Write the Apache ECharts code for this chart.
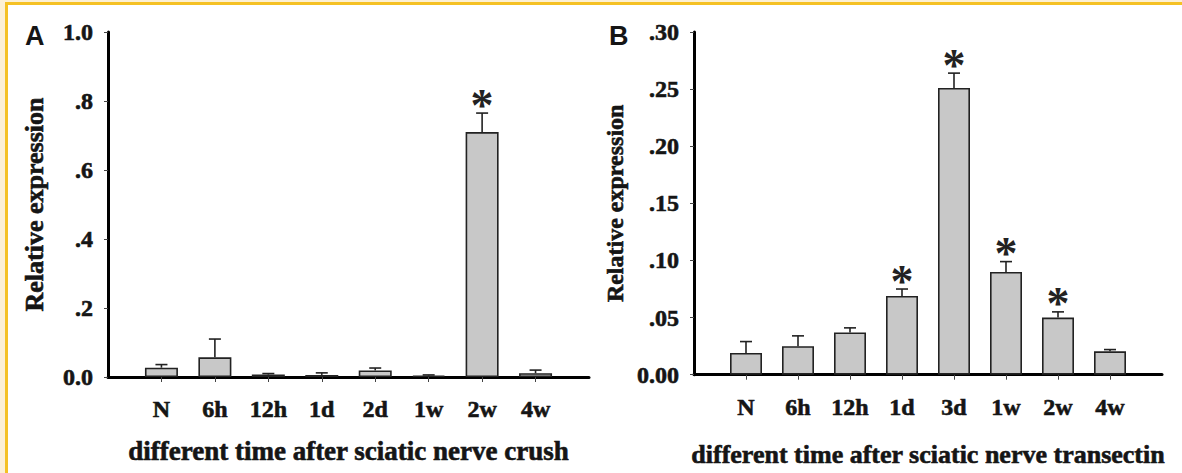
<!DOCTYPE html>
<html>
<head>
<meta charset="utf-8">
<script src="https://cdn.jsdelivr.net/npm/echarts@6/dist/echarts.min.js"></script>
<style>
  html, body { margin: 0; padding: 0; background: #fcf0d4; }
  #frame { position: absolute; left: 5px; top: 2px; width: 1177px; height: 471px; background: #fff;
           border-left: 3px solid #f5c124; border-top: 3px solid #f5c124; box-sizing: border-box; }
  #chart { position: absolute; left: 0; top: 0; width: 1182px; height: 473px; }
</style>
</head>
<body>
<div id="frame"></div>
<div id="chart"></div>
<script>
// panel A - crush
const categoriesA = ['', 'N', '6h', '12h', '1d', '2d', '1w', '2w', '4w', ''];
const meansA = [0.027, 0.057, 0.007, 0.006, 0.019, 0.004, 0.710, 0.011];
const errorsA = [0.009, 0.053, 0.003, 0.006, 0.007, 0.002, 0.055, 0.009];
const starsA = [0, 0, 0, 0, 0, 0, 1, 0];
const tickLabelsA = ['0.0', '.2', '.4', '.6', '.8', '1.0'];

// panel B - transection
const categoriesB = ['', 'N', '6h', '12h', '1d', '3d', '1w', '2w', '4w', ''];
const meansB = [0.019, 0.025, 0.037, 0.069, 0.251, 0.090, 0.050, 0.0205];
const errorsB = [0.010, 0.009, 0.004, 0.006, 0.013, 0.009, 0.005, 0.0015];
const starsB = [0, 0, 0, 1, 1, 1, 1, 0];
const tickLabelsB = ['0.00', '.05', '.10', '.15', '.20', '.25', '.30'];

const serif = '"Liberation Serif", "Times New Roman", serif';
const sans = '"Liberation Sans", Arial, sans-serif';
const ink = '#151515';
// the scanned figure has heavy, slightly smeared type
const heavy = { fontFamily: serif, fontWeight: 'bold', color: ink, textBorderColor: ink, textBorderWidth: 0.6 };

function errorBars(params, api) {
    const i = api.value(0), m = api.value(1), e = api.value(2);
    const base = api.coord([i, m]);
    const top = api.coord([i, m + e]);
    const st = { stroke: '#222', lineWidth: 1.6 };
    const children = [
        { type: 'line', shape: { x1: base[0], y1: base[1], x2: top[0], y2: top[1] }, style: st },
        { type: 'line', shape: { x1: top[0] - 6, y1: top[1], x2: top[0] + 6, y2: top[1] }, style: st }
    ];
    if (api.value(3)) {
        children.push({
            type: 'text', x: top[0], y: top[1] - 8,
            style: { text: '*', fontFamily: serif, fontWeight: 'bold', fontSize: 46, fill: '#222',
                     align: 'center', verticalAlign: 'middle' }
        });
    }
    return { type: 'group', children };
}

function xAxisOf(idx, cats, title, gap, size) {
    return {
        type: 'category', gridIndex: idx, data: cats, boundaryGap: false,
        axisLine: { lineStyle: { color: '#000', width: 3 } },
        axisTick: { show: true, length: 5, interval: (i) => i > 0 && i < cats.length - 1, lineStyle: { color: '#444', width: 1 } },
        axisLabel: Object.assign({ interval: 0, margin: 20, fontSize: 24 }, heavy),
        name: title, nameLocation: 'middle', nameGap: gap,
        nameTextStyle: Object.assign({ fontSize: size }, heavy)
    };
}

function yAxisOf(idx, max, step, labels, gap, size) {
    return {
        type: 'value', gridIndex: idx, min: 0, max: max, interval: step,
        splitLine: { show: false },
        axisLine: { show: true, lineStyle: { color: '#000', width: 3 } },
        axisTick: { show: true, length: 4, lineStyle: { color: '#444', width: 1 } },
        axisLabel: Object.assign({ margin: 15, fontSize: 24, formatter: (v, i) => labels[i] }, heavy),
        name: 'Relative expression', nameLocation: 'middle', nameRotate: 90, nameGap: gap,
        nameTextStyle: Object.assign({ fontSize: size }, heavy)
    };
}

const pad = (arr) => ['-', ...arr, '-'];
const errData = (m, e, s) => m.map((v, k) => [k + 1, v, e[k], s[k]]);

const chart = echarts.init(document.getElementById('chart'), null, { renderer: 'svg' });
chart.setOption({
    animation: false,
    title: [
        { text: 'A', left: 20, top: 17, textStyle: { fontFamily: sans, fontWeight: 'bold', fontSize: 27, color: ink } },
        { text: 'B', left: 604, top: 17, textStyle: { fontFamily: sans, fontWeight: 'bold', fontSize: 27, color: ink } }
    ],
    grid: [
        { left: 108, top: 32, width: 481, height: 345 },
        { left: 694, top: 32, width: 468, height: 346 }
    ],
    xAxis: [
        xAxisOf(0, categoriesA, 'different time after sciatic nerve crush', 60, 27),
        xAxisOf(1, categoriesB, 'different time after sciatic nerve transectin', 67, 26)
    ],
    yAxis: [
        yAxisOf(0, 1.0, 0.2, tickLabelsA, 61, 26),
        yAxisOf(1, 0.30, 0.05, tickLabelsB, 67, 24)
    ],
    series: [
        { type: 'bar', xAxisIndex: 0, yAxisIndex: 0, data: pad(meansA), barWidth: 33,
          itemStyle: { color: '#c8c8c8', borderColor: '#222', borderWidth: 1.6 } },
        { type: 'custom', xAxisIndex: 0, yAxisIndex: 0, data: errData(meansA, errorsA, starsA),
          renderItem: errorBars, clip: false, z: 3 },
        { type: 'bar', xAxisIndex: 1, yAxisIndex: 1, data: pad(meansB), barWidth: 32,
          itemStyle: { color: '#c8c8c8', borderColor: '#222', borderWidth: 1.6 } },
        { type: 'custom', xAxisIndex: 1, yAxisIndex: 1, data: errData(meansB, errorsB, starsB),
          renderItem: errorBars, clip: false, z: 3 }
    ]
});
</script>
</body>
</html>
